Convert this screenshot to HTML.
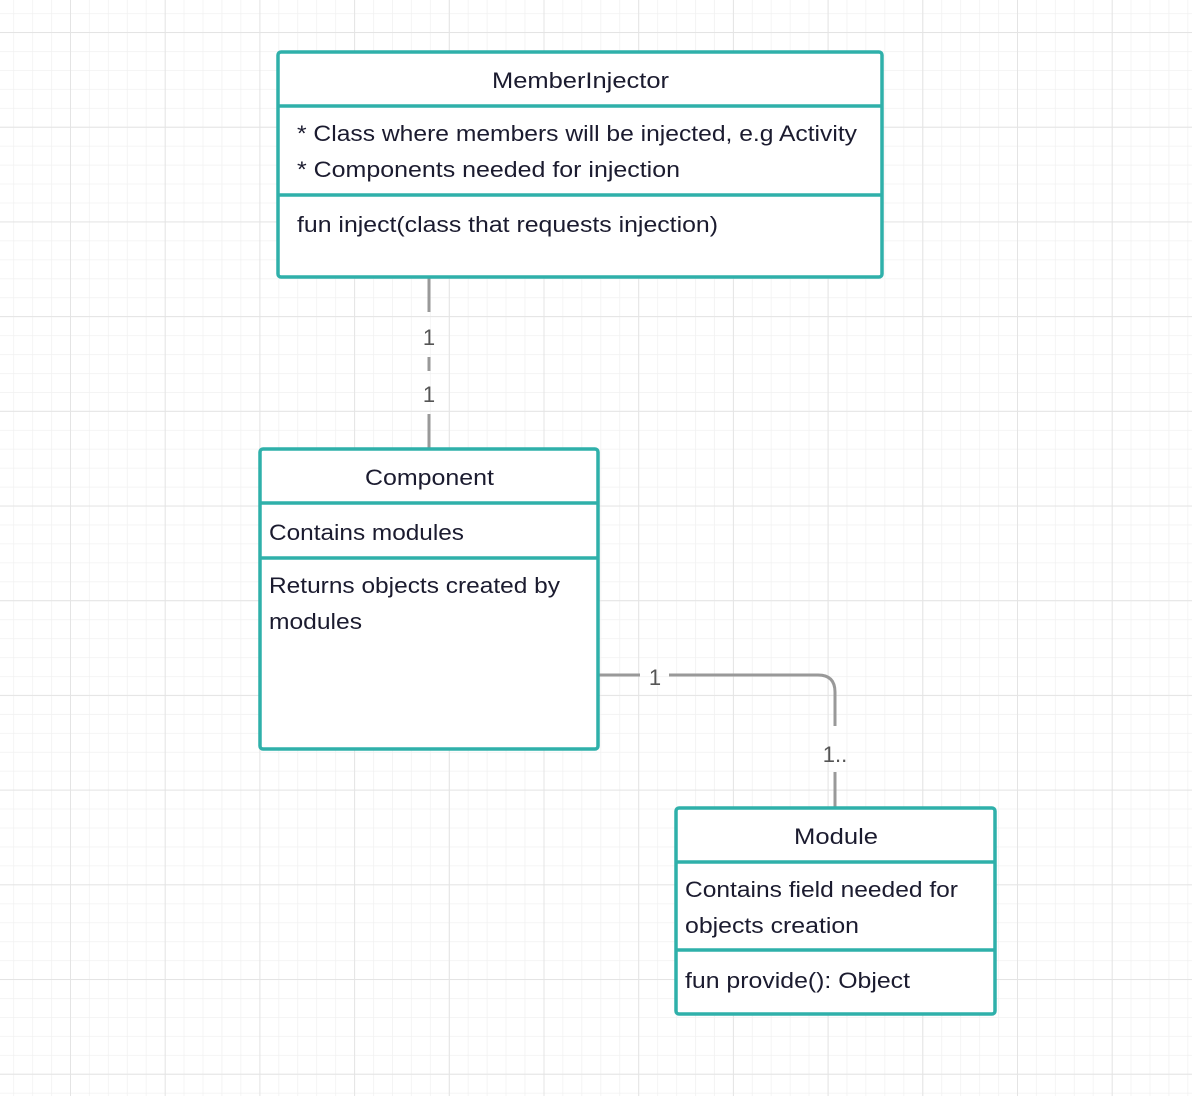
<!DOCTYPE html>
<html><head><meta charset="utf-8"><style>
html,body{margin:0;padding:0;background:#fff;}
svg{display:block;}
text{font-family:"Liberation Sans",sans-serif;fill:#1b1b2f;font-size:22px;}
.lbl{fill:#555;font-size:22px;}
</style></head><body>
<svg width="1192" height="1096" viewBox="0 0 1192 1096" xmlns="http://www.w3.org/2000/svg">
<defs>
<pattern id="minor" x="13.2" y="13.2" width="18.94" height="18.94" patternUnits="userSpaceOnUse">
<path d="M0 0H18.94M0 0V18.94" stroke="#f1f1f1" stroke-width="1.5" fill="none"/>
</pattern>
<pattern id="major" x="70" y="32" width="94.7" height="94.7" patternUnits="userSpaceOnUse">
<path d="M0 0H94.7M0 0V94.7" stroke="#e4e4e4" stroke-width="2" fill="none"/>
</pattern>
</defs>
<rect width="1192" height="1096" fill="#fff"/>
<rect width="1192" height="1096" fill="url(#minor)"/>
<rect width="1192" height="1096" fill="url(#major)"/>

<g stroke="#999" stroke-width="3" fill="none">
<path d="M429 278V312"/>
<path d="M429 357V371"/>
<path d="M429 414V448"/>
<path d="M599 675H640"/>
<path d="M669 675H818Q835 675 835 692V726"/>
<path d="M835 772V807"/>
</g>
<text class="lbl" x="429" y="345" text-anchor="middle">1</text>
<text class="lbl" x="429" y="402" text-anchor="middle">1</text>
<text class="lbl" x="655" y="685" text-anchor="middle">1</text>
<text class="lbl" x="835" y="762" text-anchor="middle">1..</text>

<g stroke="#2fb0aa" stroke-width="3.5" fill="#fff">
<rect x="278" y="52" width="604" height="225" rx="3"/>
<path d="M278 106H882M278 195H882"/>
<rect x="260" y="449" width="338" height="300" rx="3"/>
<path d="M260 503H598M260 558H598"/>
<rect x="676" y="808" width="319" height="206" rx="3"/>
<path d="M676 862H995M676 950H995"/>
</g>
<text x="492" y="88" textLength="177" lengthAdjust="spacingAndGlyphs">MemberInjector</text>
<text x="297" y="141" textLength="560" lengthAdjust="spacingAndGlyphs">* Class where members will be injected, e.g Activity</text>
<text x="297" y="177" textLength="383" lengthAdjust="spacingAndGlyphs">* Components needed for injection</text>
<text x="297" y="232" textLength="421" lengthAdjust="spacingAndGlyphs">fun inject(class that requests injection)</text>

<text x="365" y="485" textLength="129" lengthAdjust="spacingAndGlyphs">Component</text>
<text x="269" y="540" textLength="195" lengthAdjust="spacingAndGlyphs">Contains modules</text>
<text x="269" y="593" textLength="291" lengthAdjust="spacingAndGlyphs">Returns objects created by</text>
<text x="269" y="629" textLength="93" lengthAdjust="spacingAndGlyphs">modules</text>

<text x="794" y="844" textLength="84" lengthAdjust="spacingAndGlyphs">Module</text>
<text x="685" y="897" textLength="273" lengthAdjust="spacingAndGlyphs">Contains field needed for</text>
<text x="685" y="933" textLength="174" lengthAdjust="spacingAndGlyphs">objects creation</text>
<text x="685" y="988" textLength="225" lengthAdjust="spacingAndGlyphs">fun provide(): Object</text>
</svg>
</body></html>
